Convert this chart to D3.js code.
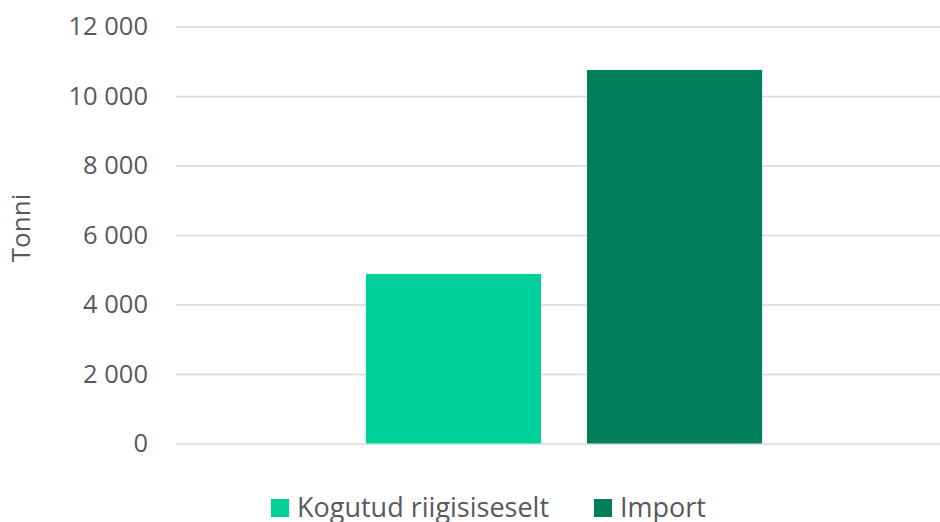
<!DOCTYPE html>
<html>
<head>
<meta charset="utf-8">
<style>
  body { margin: 0; background: #fff; font-family: 'Open Sans', sans-serif; }
  .axis .domain { display: none; }
  .axis line { stroke: #d9d9d9; }
  .axis text { fill: #595959; font-size: 25.5px; font-family: 'Open Sans', sans-serif; }
</style>
</head>
<body>
<svg width="940" height="522"></svg>
<script src="https://cdn.jsdelivr.net/npm/d3@7"></script>
<script>
var categories = [""];
var series = ["Kogutud riigisiseselt", "Import"];
var values = [4880, 10750];
var colors = ["#00d19a", "#00805a"];
var yTicks = [0, 2000, 4000, 6000, 8000, 10000, 12000];

var svg = d3.select("svg");

var x0 = d3.scaleBand()
    .domain(categories)
    .range([176, 952])
    .padding(0.324);

var x1 = d3.scaleBand()
    .domain(series)
    .range([0, x0.bandwidth()])
    .paddingInner(0.208)
    .paddingOuter(0);

var y = d3.scaleLinear()
    .domain([0, 12000])
    .range([443.5, 26.5]);

var fmt = function(d) { return d3.format(",")(d).replace(/,/g, " "); };

// gridlines + labels
var yAxis = svg.append("g")
    .attr("class", "axis")
    .attr("transform", "translate(176,0)")
    .call(d3.axisLeft(y).tickValues(yTicks).tickSize(-764).tickPadding(28).tickFormat(fmt));
yAxis.selectAll("line").attr("stroke-width", 1.3);

svg.append("text")
    .attr("transform", "translate(30,228) rotate(-90)")
    .attr("text-anchor", "middle")
    .attr("fill", "#595959")
    .attr("font-size", 26)
    .text("Tonni");

var data = series.map(function(s, i) { return {key: s, value: values[i]}; });

svg.append("g")
    .attr("transform", "translate(" + x0(categories[0]) + ",0)")
  .selectAll("rect")
  .data(data)
  .enter().append("rect")
    .attr("x", function(d) { return x1(d.key); })
    .attr("y", function(d) { return y(d.value); })
    .attr("width", x1.bandwidth())
    .attr("height", function(d) { return y(0) - y(d.value); })
    .attr("fill", function(d, i) { return colors[i]; });

// legend
var legendX = [271, 594];
var legend = svg.append("g")
  .selectAll("g")
  .data(series)
  .enter().append("g")
    .attr("transform", function(d, i) { return "translate(" + legendX[i] + ",499)"; });

legend.append("rect")
    .attr("width", 18)
    .attr("height", 18)
    .attr("fill", function(d, i) { return colors[i]; });

legend.append("text")
    .attr("x", 26)
    .attr("y", 8)
    .attr("dy", "0.36em")
    .attr("fill", "#595959")
    .attr("font-size", 27)
    .text(function(d) { return d; });
</script>
</body>
</html>
